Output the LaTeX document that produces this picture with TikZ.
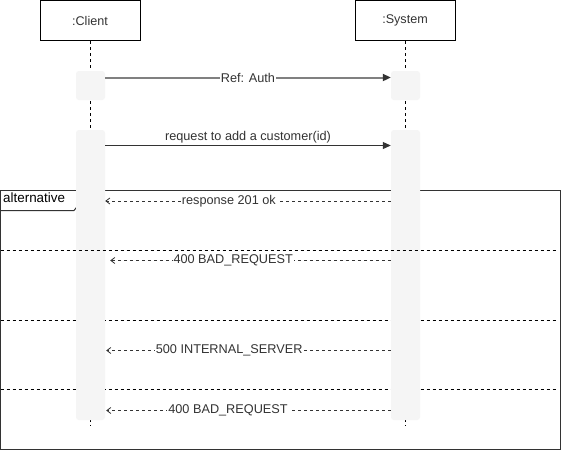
\documentclass[tikz,border=0pt]{standalone}
\usepackage{fontspec}
\setmainfont{Liberation Sans}
\usetikzlibrary{arrows.meta}
\definecolor{txt}{HTML}{333333}
\definecolor{actfill}{HTML}{F5F5F5}
\definecolor{refgray}{HTML}{808080}
\begin{document}
\begin{tikzpicture}[x=1pt,y=-1pt,
  lifebox/.style={draw=black, line width=1pt, fill=white, minimum width=100pt, minimum height=40pt, inner sep=0pt, font=\fontsize{12.6}{14}\selectfont, text=txt},
  lifeline/.style={draw=black, line width=1pt, dash pattern=on 3pt off 3pt},
  actbox/.style={fill=actfill, draw=none, rounded corners=3pt, minimum width=29pt, inner sep=0pt},
  syncmsg/.style={draw=txt, line width=1pt, -{Triangle[length=8pt,width=7pt]}},
  refmsg/.style={draw=refgray, line width=2pt, -{Triangle[length=8pt,width=7pt,color=txt]}},
  retmsg/.style={draw=txt, line width=0.8pt, dash pattern=on 3pt off 3pt, -{Straight Barb[length=4pt,width=6pt]}},
  msglabel/.style={font=\fontsize{12.7}{14}\selectfont, text=txt, inner sep=1pt},
  frameline/.style={draw=txt, line width=1pt},
  sepline/.style={draw=black, line width=0.9pt, dash pattern=on 3pt off 3pt}
]
\useasboundingbox (0,0) rectangle (562,451);
\fill[white] (0,0) rectangle (562,451);

% lifeline heads
\node[lifebox] (client) at (90,20.5) {:Client};
\node[lifebox] (system) at (405,20.5) {:System};

% lifeline ends
\coordinate (clend) at (90,426);
\coordinate (syend) at (405,426);
\draw[lifeline] (client.south) -- (clend);
\draw[lifeline] (system.south) -- (syend);

% frame (behind activations)
\draw[frameline] (0.5,190.5) rectangle (560.5,449.5);
\draw[frameline] (0.5,210.5) -- (74,210.5) -- (82.5,200) -- (82.5,190.5);
\node[anchor=west, font=\fontsize{13.4}{15}\selectfont, text=black, inner sep=0pt] (altlabel) at (3,198) {alternative};

% activations
\node[actbox, minimum height=29pt] (ca1) at (90.5,85.5) {};
\node[actbox, minimum height=29pt] (sa1) at (405.5,85.5) {};
\node[actbox, minimum height=290pt] (ca2) at (90.5,275) {};
\node[actbox, minimum height=290pt] (sa2) at (405.5,275) {};

% separators
\coordinate (s1l) at (0.5,250); \coordinate (s1r) at (558,250);
\coordinate (s2l) at (0.5,320); \coordinate (s2r) at (558,320);
\coordinate (s3l) at (0.5,389); \coordinate (s3r) at (558,389);
\draw[sepline] (s1l) -- (s1r);

% message rows
\coordinate (y1) at (0,77.5);
\coordinate (y2) at (0,145.5);
\coordinate (y3) at (0,201);
\coordinate (y4) at (0,260.5);
\coordinate (y5) at (0,350.5);
\coordinate (y6) at (0,410.5);

\draw[refmsg] (ca1.east |- y1) -- (sa1.west |- y1)
  node[msglabel, fill=white, pos=0.5] (l1) {Ref: Auth};
\draw[syncmsg] (ca2.east |- y2) -- (sa2.west |- y2)
  node[msglabel, midway, above=1pt] (l2) {request to add a customer(id)};
\draw[retmsg] (sa2.west |- y3) -- (ca2.east |- y3)
  node[msglabel, fill=white, pos=0.567] (l3) {response 201 ok};
\draw[retmsg, shorten >=5pt] (sa2.west |- y4) -- (ca2.east |- y4)
  node[msglabel, fill=white, pos=0.552] (l4) {400 BAD\_REQUEST};
\draw[retmsg, shorten >=1pt] (sa2.west |- y5) -- (ca2.east |- y5)
  node[msglabel, fill=white, pos=0.566] (l5) {500 INTERNAL\_SERVER};
\draw[retmsg, shorten >=1pt] (sa2.west |- y6) -- (ca2.east |- y6)
  node[msglabel, fill=white, pos=0.57] (l6) {400 BAD\_REQUEST};

% separators that pass behind activations
\draw[sepline] (s2l) -- (s2r);
\draw[sepline] (s3l) -- (s3r);
\fill[actfill] ([yshift=-3pt]ca2.west |- s2l) rectangle ([yshift=3pt]ca2.east |- s2l);
\fill[actfill] ([yshift=-3pt]sa2.west |- s2l) rectangle ([yshift=3pt]sa2.east |- s2l);
\fill[actfill] ([yshift=-3pt]ca2.west |- s3l) rectangle ([yshift=3pt]ca2.east |- s3l);
\fill[actfill] ([yshift=-3pt]sa2.west |- s3l) rectangle ([yshift=3pt]sa2.east |- s3l);
\end{tikzpicture}
\end{document}
